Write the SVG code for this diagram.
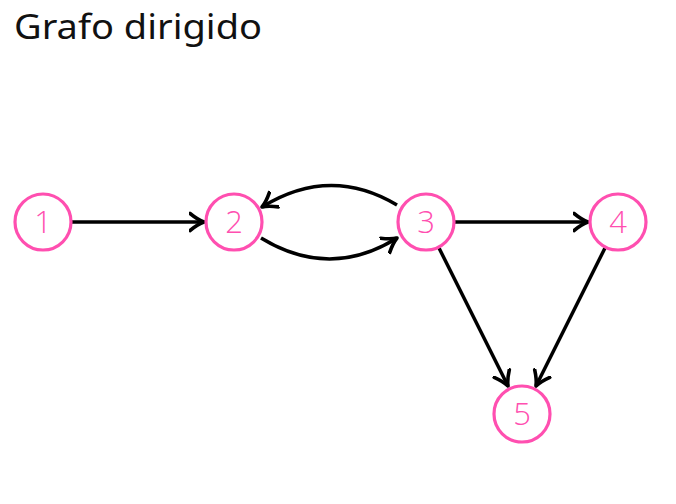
<svg xmlns="http://www.w3.org/2000/svg" width="676" height="504" viewBox="0 0 676 504">
<defs>
<style>
.title{font-family:"Noto Sans","Open Sans",sans-serif;font-size:34px;fill:#111}
.node circle{fill:#fff;stroke:#ff4fb0;stroke-width:3.2}
.node text{font-family:"Open Sans","Noto Sans",sans-serif;font-weight:300;font-size:31px;fill:#ff4fb0;text-anchor:middle}
.edges path{fill:none;stroke:#000;stroke-width:3.5;marker-end:url(#arr)}
</style>
<marker id="arr" markerUnits="userSpaceOnUse" markerWidth="30" markerHeight="30" viewBox="-15 -15 30 30" refX="0" refY="0" orient="auto">
<path d="M-14,-8.5 Q-6,-2 0,0 Q-6,2 -14,8.5" fill="none" stroke="#000" stroke-width="3.6" stroke-linecap="round" stroke-linejoin="round"/>
</marker>
</defs>
<rect width="676" height="504" fill="#fff"/>
<text class="title" x="14" y="39" textLength="248" lengthAdjust="spacingAndGlyphs">Grafo dirigido</text>
<g class="edges" id="edges">
<path d="M71,222 L204,222"/>
<path d="M397,205 Q330,165 262,207"/>
<path d="M261,238 Q330,280 397,238"/>
<path d="M455,222 L588,222"/>
<path d="M439,248 L508,386"/>
<path d="M605,248 L536,386"/>
</g>
<g class="node" id="n1"><circle cx="43" cy="222" r="28"/><text x="43" y="233">1</text></g>
<g class="node" id="n2"><circle cx="234" cy="222" r="28"/><text x="234" y="233">2</text></g>
<g class="node" id="n3"><circle cx="426" cy="222" r="28"/><text x="426" y="233">3</text></g>
<g class="node" id="n4"><circle cx="618" cy="222" r="28"/><text x="618" y="233">4</text></g>
<g class="node" id="n5"><circle cx="522" cy="414" r="28"/><text x="522" y="425">5</text></g>
</svg>
